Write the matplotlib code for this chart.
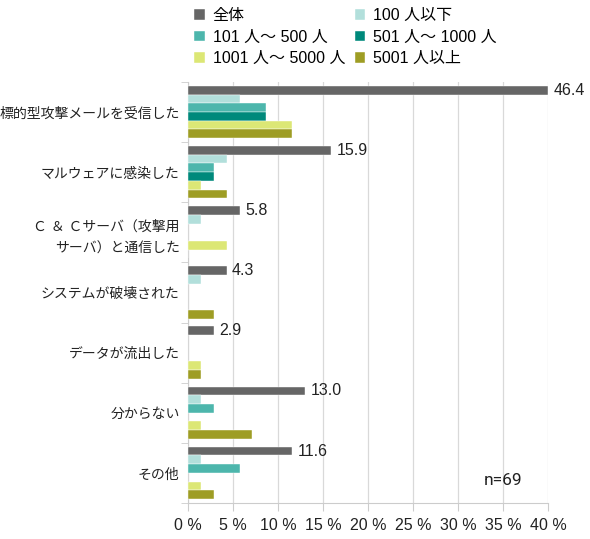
import numpy as np
import matplotlib
matplotlib.use('Agg')
import matplotlib.pyplot as plt

plt.rcParams['font.family'] = ['Liberation Sans', 'Noto Sans CJK JP', 'DejaVu Sans']

categories = ['標的型攻撃メールを受信した', 'マルウェアに感染した',
              'Ｃ ＆ Ｃサーバ（攻撃用\nサーバ）と通信した', 'システムが破壊された',
              'データが流出した', '分からない', 'その他']
series = ['全体', '100 人以下', '101 人〜 500 人', '501 人〜 1000 人',
          '1001 人〜 5000 人', '5001 人以上']
total = [46.4, 15.9, 5.8, 4.3, 2.9, 13.0, 11.6]
s_100 = [5.8, 4.3, 1.4, 1.4, 0.0, 1.4, 1.4]
s_500 = [8.7, 2.9, 0.0, 0.0, 0.0, 2.9, 5.8]
s_1000 = [8.7, 2.9, 0.0, 0.0, 0.0, 0.0, 0.0]
s_5000 = [11.6, 1.4, 4.3, 0.0, 1.4, 1.4, 1.4]
s_over = [11.6, 4.3, 0.0, 2.9, 1.4, 7.1, 2.9]
xticks = [0, 5, 10, 15, 20, 25, 30, 35, 40]

colors = ['#666666', '#b2dfdb', '#4db6ac', '#00897b', '#dce775', '#9e9d24']
data = [total, s_100, s_500, s_1000, s_5000, s_over]

fig = plt.figure(figsize=(5.9, 5.39), dpi=100)
ax = fig.add_axes([0.3186, 0.0668, 0.6102, 0.7812])

n = len(categories)
h = 0.145
y0 = np.arange(n)
handles = []
for i, (vals, c, lab) in enumerate(zip(data, colors, series)):
    y = y0 - 0.3625 + i * h
    b = ax.barh(y, np.minimum(vals, 40), height=h, color=c, label=lab, zorder=3,
                edgecolor='white', linewidth=0.3)
    handles.append(b)
    if i == 0:
        for yy, v in zip(y, vals):
            ax.text(min(v, 40) + 0.6, yy, f'{v:.1f}', va='center', ha='left',
                    fontsize=11.5, color='#222222', zorder=4, clip_on=False)

ax.set_ylim(n - 0.5, -0.5)
ax.set_xlim(0, 40)
ax.set_xticks(xticks)
ax.set_xticklabels([f'{t} %' for t in xticks], fontsize=11.5, color='#222222')
ax.set_yticks(y0)
ax.set_yticklabels(categories, fontsize=10, color='#222222', linespacing=1.7)
ax.set_yticks(np.arange(n + 1) - 0.5, minor=True)
ax.tick_params(axis='y', which='major', length=0, pad=6)
ax.tick_params(axis='y', which='minor', length=5, color='#cccccc')
ax.tick_params(axis='x', length=6, color='#cccccc', pad=5)
ax.grid(axis='x', color='#d9d9d9', linewidth=0.9, zorder=0)
for s in ['top', 'right']:
    ax.spines[s].set_visible(False)
ax.spines['left'].set_color('#cccccc')
ax.spines['bottom'].set_color('#cccccc')

ax.text(0.93, 0.035, 'n=69', transform=ax.transAxes, fontsize=12.5,
        ha='right', va='bottom', color='#222222', fontstretch='condensed',
        family=['Roboto', 'Liberation Sans'])

# row-wise legend order: matplotlib fills columns first
order = [0, 2, 4, 1, 3, 5]
fig.legend([handles[k] for k in order], [series[k] for k in order],
           loc='upper left', bbox_to_anchor=(0.305, 1.012), ncol=2,
           frameon=False, handlelength=0.65, handleheight=0.65,
           columnspacing=0.6, labelspacing=0.42, handletextpad=0.5,
           prop={'family': ['Liberation Sans', 'Noto Sans CJK JP'], 'size': 11.5})

plt.savefig('out.png', dpi=100)
